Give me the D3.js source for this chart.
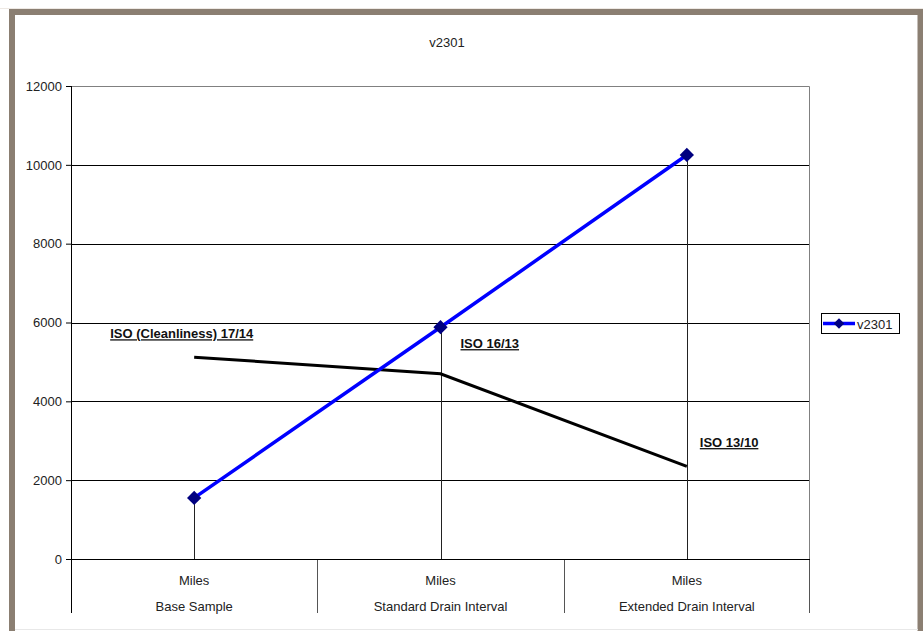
<!DOCTYPE html>
<html>
<head>
<meta charset="utf-8">
<script src="https://cdn.jsdelivr.net/npm/d3@7"></script>
<style>
  body { margin: 0; background: #fff; overflow: hidden; }
  svg { display: block; }
  text { font-family: "Liberation Sans", Arial, sans-serif; }
</style>
</head>
<body>
<div id="chart"></div>
<script>
// Data
const categories = ['Base Sample', 'Standard Drain Interval', 'Extended Drain Interval'];
const unitLabels = ['Miles', 'Miles', 'Miles'];
const seriesName = 'v2301';
const seriesValues = [1550, 5880, 10250];
const isoValues = [5120, 4700, 2350];
const isoLabels = ['ISO (Cleanliness) 17/14', 'ISO 16/13', 'ISO 13/10'];
const yTicks = [0, 2000, 4000, 6000, 8000, 10000, 12000];

// Variables
const width = 923;
const height = 631;

const margin = { top: 86, right: 113, bottom: 72, left: 71 };
const innerWidth = width - margin.left - margin.right;
const innerHeight = height - margin.top - margin.bottom;
const catBoxHeight = 54;
const fontSize = 13;

const frameColor = '#8b7f72';
const blue = '#0000ff';
const navy = '#000080';

const svg = d3.select('#chart')
    .append('svg')
        .attr('width', width)
        .attr('height', height);

// Frame
svg.append('rect')
    .attr('x', 0).attr('y', 0)
    .attr('width', width).attr('height', height)
    .attr('fill', '#fff');
svg.append('line')
    .attr('x1', 0).attr('x2', width)
    .attr('y1', 8.5).attr('y2', 8.5)
    .attr('stroke', '#eee9e4');
svg.append('path')
    .attr('d', `M12,${height} V12 H${width - 2.5} V${height}`)
    .attr('fill', 'none')
    .attr('stroke', frameColor)
    .attr('stroke-width', 6);
svg.append('line')
    .attr('x1', 15).attr('x2', width - 5)
    .attr('y1', 629.5).attr('y2', 629.5)
    .attr('stroke', '#e8e8e8');

const chartGroup = svg.append('g')
    .attr('transform', `translate(${margin.left}, ${margin.top})`);

// Scales
const xScale = d3.scaleBand()
    .domain(categories)
    .range([0, innerWidth]);

const yScale = d3.scaleLinear()
    .domain([0, 12000])
    .range([innerHeight, 0]);

const xCenter = (d, i) => xScale(categories[i]) + xScale.bandwidth() / 2;

// Gridlines
chartGroup.append('g')
    .selectAll('line')
    .data(yTicks.filter(t => t > 0 && t < 12000))
    .enter().append('line')
        .attr('x1', 0).attr('x2', innerWidth)
        .attr('y1', d => Math.round(yScale(d)) + 0.5)
        .attr('y2', d => Math.round(yScale(d)) + 0.5)
        .attr('stroke', '#000')
        .attr('stroke-width', 1);

// Plot area border (top & right)
chartGroup.append('path')
    .attr('d', `M0,0.5 H${innerWidth - 0.5} V${innerHeight}`)
    .attr('fill', 'none')
    .attr('stroke', '#808080')
    .attr('stroke-width', 1);

// Category box
const catGroup = chartGroup.append('g')
    .attr('transform', `translate(0, ${innerHeight})`);

catGroup.selectAll('line.div')
    .data(categories.concat(['end']))
    .enter().append('line')
        .attr('class', 'div')
        .attr('x1', (d, i) => i < categories.length ? Math.round(xScale(d)) + 0.5 : innerWidth - 0.5)
        .attr('x2', (d, i) => i < categories.length ? Math.round(xScale(d)) + 0.5 : innerWidth - 0.5)
        .attr('y1', 0).attr('y2', catBoxHeight)
        .attr('stroke', (d, i) => i === 0 ? '#000' : '#555');

catGroup.selectAll('text.unit')
    .data(unitLabels)
    .enter().append('text')
        .attr('class', 'unit')
        .attr('x', xCenter)
        .attr('y', 26)
        .attr('text-anchor', 'middle')
        .attr('font-size', fontSize)
        .attr('fill', '#222')
        .text(d => d);

catGroup.selectAll('text.cat')
    .data(categories)
    .enter().append('text')
        .attr('class', 'cat')
        .attr('x', xCenter)
        .attr('y', 52)
        .attr('text-anchor', 'middle')
        .attr('font-size', fontSize)
        .attr('fill', '#222')
        .text(d => d);

// Y axis
const yAxis = d3.axisLeft(yScale)
    .tickValues(yTicks)
    .tickSize(5)
    .tickPadding(4)
    .tickFormat(d3.format('d'));

const yAxisGroup = chartGroup.append('g')
    .call(yAxis);
yAxisGroup.select('.domain').remove();
yAxisGroup.selectAll('.tick line').attr('stroke', '#000');
yAxisGroup.selectAll('.tick text')
    .attr('font-size', fontSize)
    .attr('font-family', '"Liberation Sans", Arial, sans-serif')
    .attr('fill', '#222');

chartGroup.append('line')
    .attr('x1', 0.5).attr('x2', 0.5)
    .attr('y1', 0).attr('y2', innerHeight + catBoxHeight)
    .attr('stroke', '#000');

// X axis line at 0
chartGroup.append('line')
    .attr('x1', 0).attr('x2', innerWidth)
    .attr('y1', innerHeight + 0.5).attr('y2', innerHeight + 0.5)
    .attr('stroke', '#000');

// Drop lines
chartGroup.append('g')
    .selectAll('line')
    .data(seriesValues)
    .enter().append('line')
        .attr('x1', (d, i) => Math.round(xCenter(d, i)) + 0.5)
        .attr('x2', (d, i) => Math.round(xCenter(d, i)) + 0.5)
        .attr('y1', d => yScale(d))
        .attr('y2', innerHeight)
        .attr('stroke', '#222');

// ISO line
const line = d3.line()
    .x((d, i) => xCenter(d, i))
    .y(d => yScale(d));

chartGroup.append('path')
    .datum(isoValues)
    .attr('d', line)
    .attr('fill', 'none')
    .attr('stroke', '#000')
    .attr('stroke-width', 3);

// Series line
chartGroup.append('path')
    .datum(seriesValues)
    .attr('d', line)
    .attr('fill', 'none')
    .attr('stroke', blue)
    .attr('stroke-width', 3.5);

const diamond = d3.symbol().type(d3.symbolDiamond2).size(130);

chartGroup.append('g')
    .selectAll('path')
    .data(seriesValues)
    .enter().append('path')
        .attr('d', diamond)
        .attr('transform', (d, i) => `translate(${xCenter(d, i)}, ${yScale(d)})`)
        .attr('fill', navy);

// ISO labels
const isoLabelPos = [
    { dx: -84, value: 5600 },
    { dx: 20, value: 5350 },
    { dx: 13, value: 2840 }
];

chartGroup.append('g')
    .selectAll('text')
    .data(isoLabels)
    .enter().append('text')
        .attr('x', (d, i) => xCenter(d, i) + isoLabelPos[i].dx)
        .attr('y', (d, i) => yScale(isoLabelPos[i].value))
        .attr('font-size', fontSize)
        .attr('font-weight', 'bold')
        .attr('text-decoration', 'underline')
        .attr('fill', '#111')
        .text(d => d);

// Title
svg.append('text')
    .attr('x', 447)
    .attr('y', 47)
    .attr('text-anchor', 'middle')
    .attr('font-size', fontSize)
    .attr('fill', '#222')
    .text(seriesName);

// Legend
const legend = svg.append('g')
    .attr('transform', 'translate(821, 313)');

legend.append('rect')
    .attr('x', 0.5).attr('y', 0.5)
    .attr('width', 78).attr('height', 20)
    .attr('fill', '#fff')
    .attr('stroke', '#000');

legend.append('line')
    .attr('x1', 2).attr('x2', 34)
    .attr('y1', 10.5).attr('y2', 10.5)
    .attr('stroke', blue)
    .attr('stroke-width', 3.5);

legend.append('path')
    .attr('d', d3.symbol().type(d3.symbolDiamond2).size(70))
    .attr('transform', 'translate(18, 10.5)')
    .attr('fill', navy);

legend.append('text')
    .attr('x', 36)
    .attr('y', 15.5)
    .attr('font-size', fontSize)
    .attr('fill', '#222')
    .text(seriesName);
</script>
</body>
</html>
